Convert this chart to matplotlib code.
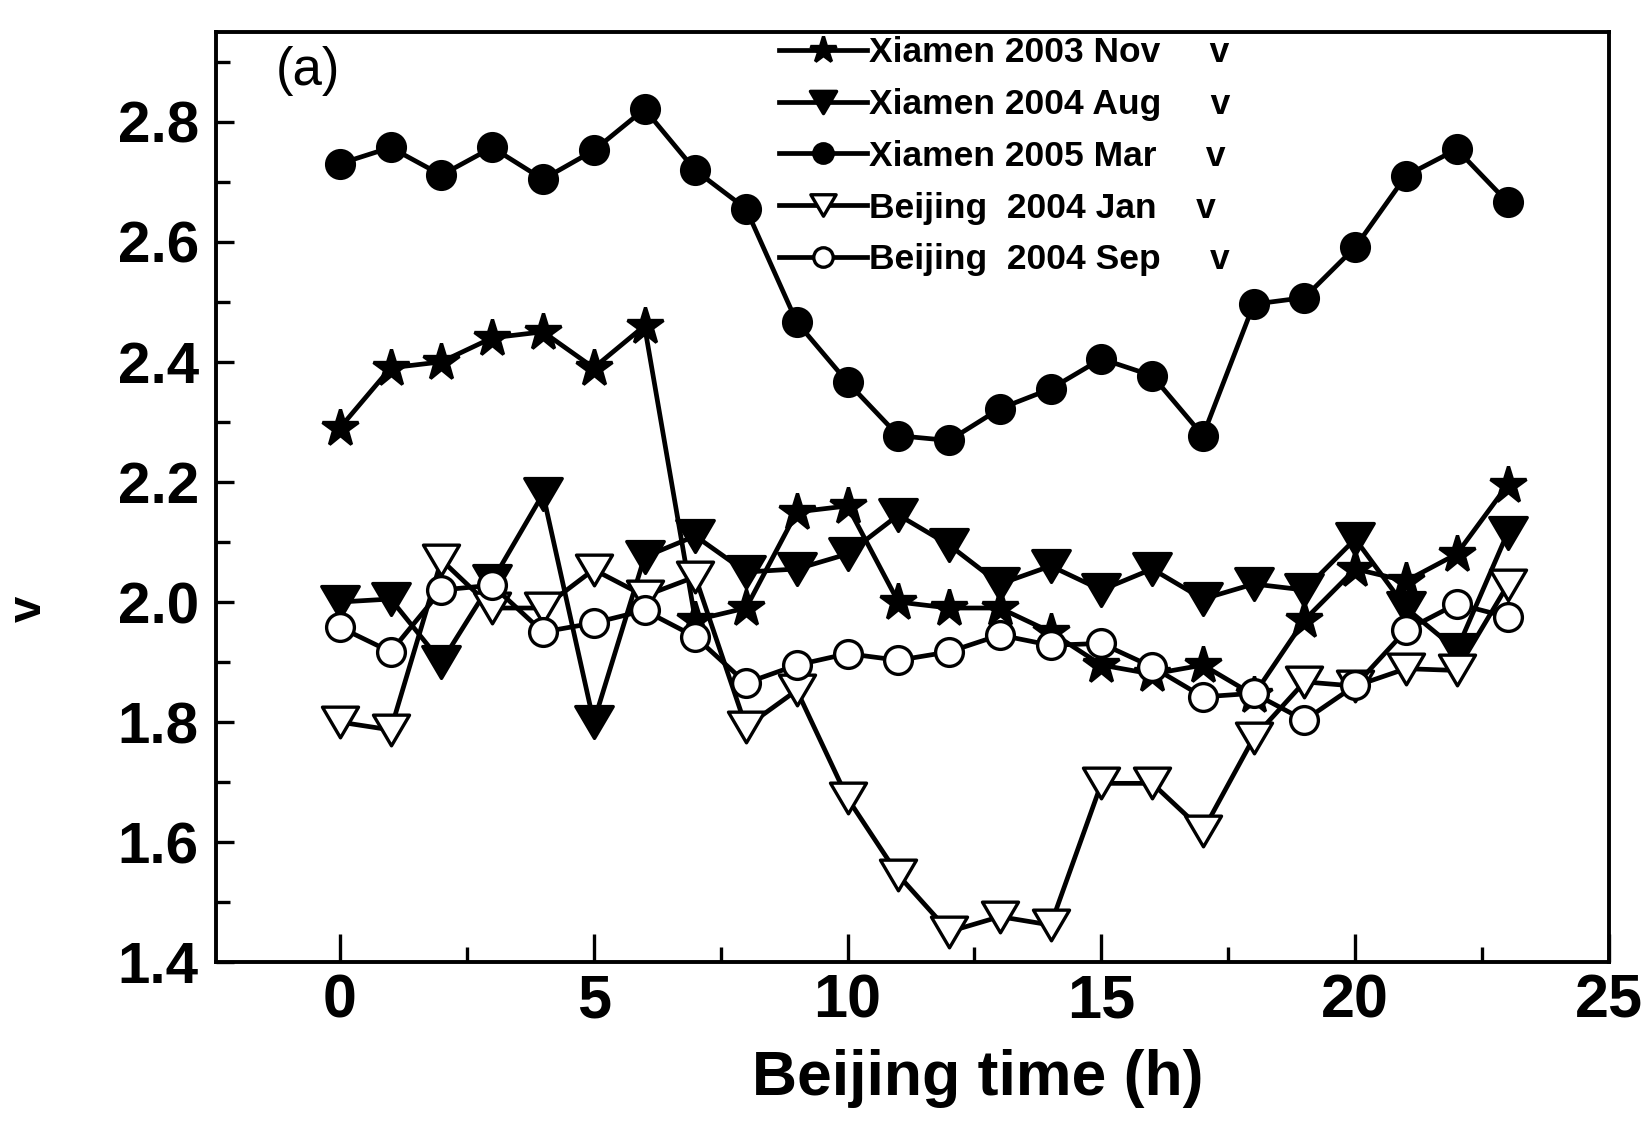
import numpy as np
import matplotlib
matplotlib.use("Agg")
import matplotlib.pyplot as plt
from matplotlib.path import Path
from matplotlib.ticker import MultipleLocator

hours = list(range(24))

xiamen_2003_nov = [2.29, 2.39, 2.40, 2.44, 2.45, 2.39, 2.46, 1.97, 1.99, 2.15, 2.16, 2.00,
                   1.99, 1.99, 1.95, 1.895, 1.88, 1.895, 1.845, 1.97, 2.055, 2.035, 2.08, 2.195]
xiamen_2004_aug = [2.00, 2.005, 1.90, 2.035, 2.18, 1.80, 2.075, 2.11, 2.05, 2.055, 2.08, 2.145,
                   2.095, 2.03, 2.06, 2.02, 2.055, 2.005, 2.03, 2.02, 2.105, 1.99, 1.92, 2.115]
xiamen_2005_mar = [2.73, 2.757, 2.711, 2.757, 2.704, 2.752, 2.821, 2.719, 2.655, 2.466, 2.366, 2.277,
                   2.269, 2.322, 2.355, 2.405, 2.377, 2.277, 2.496, 2.507, 2.591, 2.71, 2.754, 2.666]
beijing_2004_jan = [1.80, 1.787, 2.07, 1.99, 1.99, 2.054, 2.01, 2.042, 1.792, 1.853, 1.673, 1.545,
                    1.451, 1.476, 1.462, 1.698, 1.698, 1.619, 1.774, 1.867, 1.86, 1.889, 1.886, 2.028]
beijing_2004_sep = [1.958, 1.917, 2.02, 2.028, 1.95, 1.965, 1.986, 1.942, 1.865, 1.895, 1.914, 1.903,
                    1.917, 1.945, 1.928, 1.931, 1.892, 1.842, 1.848, 1.803, 1.861, 1.953, 1.997, 1.975]

labels = ["Xiamen 2003 Nov     v", "Xiamen 2004 Aug     v", "Xiamen 2005 Mar     v",
          "Beijing  2004 Jan    v", "Beijing  2004 Sep     v"]
xtick_vals = [0, 5, 10, 15, 20, 25]
ytick_vals = [1.4, 1.6, 1.8, 2.0, 2.2, 2.4, 2.6, 2.8]
ytick_labels = ["1.4", "1.6", "1.8", "2.0", "2.2", "2.4", "2.6", "2.8"]

plt.rcParams['font.family'] = ['Liberation Sans', 'DejaVu Sans']

fig = plt.figure(figsize=(16.49, 11.21), dpi=100)
ax = fig.add_axes([0.1307, 0.1416, 0.8451, 0.8302])

tri = Path([(-1, 0.85), (1, 0.85), (0, -0.85), (-1, 0.85)],
           [Path.MOVETO, Path.LINETO, Path.LINETO, Path.CLOSEPOLY])

lw = 3.4
common = dict(color='black', lw=lw, markeredgecolor='black', markeredgewidth=2.4)
ax.plot(hours, xiamen_2003_nov, marker='*', ms=28, markerfacecolor='black', label=labels[0], **common)
ax.plot(hours, xiamen_2004_aug, marker=tri, ms=27, markerfacecolor='black', label=labels[1], **common)
ax.plot(hours, xiamen_2005_mar, marker='o', ms=20, markerfacecolor='black', label=labels[2], **common)
ax.plot(hours, beijing_2004_jan, marker=tri, ms=26, markerfacecolor='white', label=labels[3], **common)
ax.plot(hours, beijing_2004_sep, marker='o', ms=20, markerfacecolor='white', label=labels[4], **common)

ax.set_xlim(-2.45, 25.0)
ax.set_ylim(1.4, 2.95)
ax.set_xticks(xtick_vals)
ax.set_xticklabels([str(v) for v in xtick_vals], fontsize=44, fontweight='bold')
ax.set_yticks(ytick_vals)
ax.set_yticklabels(ytick_labels, fontsize=42, fontweight='bold')
ax.xaxis.set_minor_locator(MultipleLocator(2.5))
ax.yaxis.set_minor_locator(MultipleLocator(0.1))
ax.tick_params(axis='both', which='both', direction='in', top=False, right=False, width=2.4)
ax.tick_params(axis='x', which='major', length=20, pad=8)
ax.tick_params(axis='x', which='minor', length=11)
ax.tick_params(axis='y', which='major', length=13, pad=12)
ax.tick_params(axis='y', which='minor', length=10)
for sp in ax.spines.values():
    sp.set_linewidth(2.8)

ax.set_xlabel("Beijing time (h)", fontsize=45, fontweight='bold', va='top')
ax.xaxis.set_label_coords(0.547, -0.093)
ax.set_ylabel("v", fontsize=34, fontweight='bold')
ax.yaxis.set_label_coords(-0.118, 0.38)

ax.text(0.043, 0.985, "(a)", transform=ax.transAxes, fontsize=38, va='top', ha='left')

leg = ax.legend(loc='upper left', bbox_to_anchor=(0.404, 0.995), frameon=False,
                prop={'size': 25.5, 'weight': 'bold'},
                handlelength=2.5, handletextpad=0.05, labelspacing=0.53,
                markerscale=0.7, borderaxespad=0.0, borderpad=0.0)

fig.savefig("out.png", dpi=100)
